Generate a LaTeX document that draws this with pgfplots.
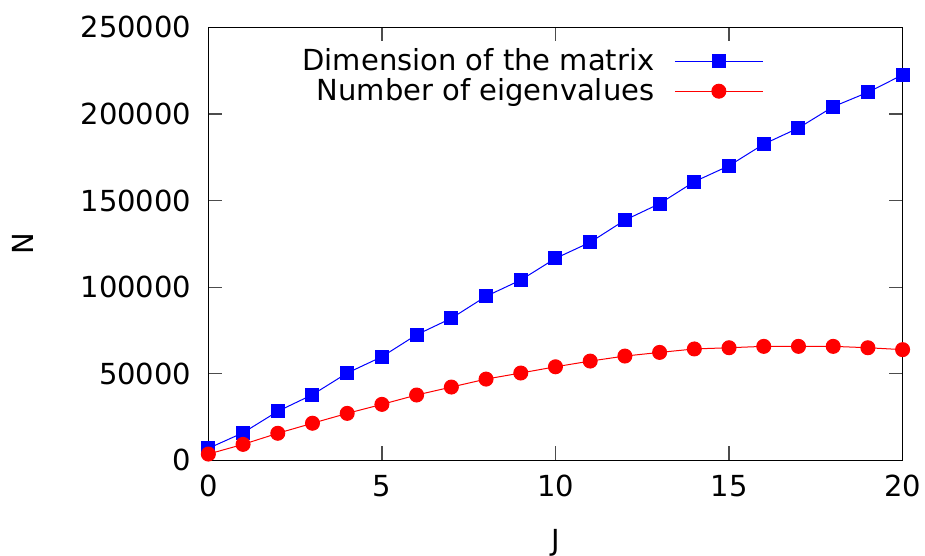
\documentclass[border=0pt]{standalone}
\usepackage{fontspec}
\setmainfont{DejaVu Sans}
\usepackage{pgfplots}
\pgfplotsset{compat=1.18}
\begin{document}
\begin{tikzpicture}
\begin{axis}[
  name=ax,
  scale only axis,
  width=347.2pt, height=216.5pt,
  font=\fontsize{14.5}{17}\selectfont,
  xmin=0, xmax=20, ymin=0, ymax=250000,
  xtick={0,5,10,15,20},
  ytick={0,50000,100000,150000,200000,250000},
  yticklabels={0,50000,100000,150000,200000,250000},
  scaled y ticks=false,
  /pgf/number format/assume math mode=true,
  tick align=inside,
  major tick length=7pt,
  every tick/.style={black!70, line width=0.6pt},
  axis line style={black, line width=0.8pt},
  xlabel={J}, ylabel={N},
  xlabel style={at={(axis description cs:0.5,-0.19)}, anchor=center},
  ylabel style={at={(axis description cs:-0.2676,0.5)}, anchor=center},
  xticklabel style={yshift=-4pt},
  yticklabel style={xshift=-5pt},
  legend cell align=right,
  legend plot pos=right,
  legend style={at={(axis description cs:0.80,0.961)}, anchor=north east, draw=none, fill=none,
    /tikz/column sep=8pt, /tikz/row sep=-1.5pt, inner sep=0pt},
  legend image code/.code={\draw[mark repeat=2,mark phase=2,#1] plot coordinates {(0pt,0pt)(22pt,0pt)(44pt,0pt)};},
]
\addplot[blue, line width=0.5pt, mark=square*, mark size=3.25pt, mark options={fill=blue}] coordinates {
(0,6900) (1,15900) (2,28300) (3,37900) (4,50400) (5,59800) (6,72500) (7,82000) (8,94700) (9,104100)
(10,116600) (11,125900) (12,138700) (13,148200) (14,160900) (15,170100) (16,182600) (17,191900)
(18,204200) (19,212500) (20,222600)};
\addlegendentry{Dimension of the matrix}
\addplot[red, line width=0.5pt, mark=*, mark size=3.5pt, mark options={fill=red}] coordinates {
(0,3600) (1,9200) (2,15600) (3,21400) (4,27100) (5,32300) (6,37700) (7,42300) (8,46900) (9,50400)
(10,54000) (11,57300) (12,60200) (13,62300) (14,64300) (15,65000) (16,65800) (17,65800)
(18,65800) (19,65000) (20,63900)};
\addlegendentry{Number of eigenvalues}
\end{axis}
\pgfresetboundingbox
\path[use as bounding box] ([xshift=-104.2pt,yshift=-47.8pt]ax.south west) rectangle ([xshift=11.2pt,yshift=13.7pt]ax.north east);
\end{tikzpicture}
\end{document}
